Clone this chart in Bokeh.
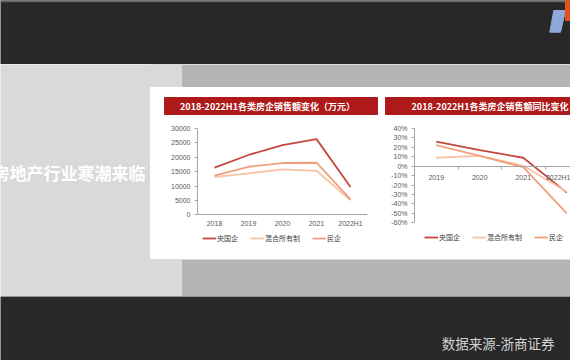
from bokeh.plotting import figure
from bokeh.layouts import column, row
from bokeh.models import Range1d, FixedTicker, NumeralTickFormatter, Legend, LegendItem
from bokeh.core.properties import value
from bokeh.embed import file_html
from bokeh.resources import INLINE

# ---------------- data ----------------
years_l = ["2018", "2019", "2020", "2021", "2022H1"]
soe_l = [16400, 20800, 24200, 26300, 9700]
mixed_l = [13100, 14400, 15800, 15300, 5000]
private_l = [13600, 16700, 18000, 18100, 5400]
yticks_l = [0, 5000, 10000, 15000, 20000, 25000, 30000]

years_r = ["2019", "2020", "2021", "2022H1"]
soe_r = [0.26, 0.17, 0.09, -0.28]
mixed_r = [0.09, 0.11, 0.005, -0.27]
private_r = [0.225, 0.11, -0.01, -0.50]
yticks_r = [-0.6, -0.5, -0.4, -0.3, -0.2, -0.1, 0.0, 0.1, 0.2, 0.3, 0.4]

names = ["央国企", "混合所有制", "民企"]
title_l = "2018-2022H1各类房企销售额变化（万元）"
title_r = "2018-2022H1各类房企销售额同比变化"
side_text = "房地产行业寒潮来临"
source_text = "数据来源-浙商证券"

# ---------------- styles ----------------
DARK = "#282828"
LIGHT = "#d9d9d9"
DOT = "#b5b5b5"
RED = "#ae1a1a"
COLORS = ["#c4483e", "#f6c4a4", "#f0a07c"]
CJK = "Noto Sans CJK SC"
LAT = "Liberation Sans"


def deco(w, h, x0, x1, y0, y1, bg):
    p = figure(width=w, height=h, x_range=Range1d(x0, x1), y_range=Range1d(y1, y0),
               toolbar_location=None, output_backend="svg", x_axis_type=None,
               y_axis_type=None, min_border=0, background_fill_color=bg,
               border_fill_color=bg, outline_line_color=None)
    return p


def style_axes(p):
    for ax in p.axis:
        ax.axis_line_color = "#a6a6a6"
        ax.major_tick_line_color = "#a6a6a6"
        ax.minor_tick_line_color = "#a6a6a6"
        ax.major_label_text_font_size = "7px"
        ax.major_label_text_color = "#595959"
        ax.major_label_text_font = LAT
        ax.major_tick_in = 0
        ax.minor_tick_in = 0
        ax.minor_tick_out = 0
    for ax in p.yaxis:
        ax.major_tick_out = 3
        ax.major_label_standoff = 4
    for ax in p.xaxis:
        ax.major_tick_out = 0
        ax.major_label_standoff = 5
        ax.fixed_location = 0
    p.grid.visible = False


def make_legend(renderers, loc):
    items = [LegendItem(label=n, renderers=[r]) for n, r in zip(names, renderers)]
    return Legend(items=items, orientation="horizontal", location=loc,
                  label_text_font_size="7px", label_text_font=CJK,
                  label_text_color="#404040", glyph_width=14, glyph_height=8,
                  label_height=8, label_standoff=1, spacing=12, padding=0,
                  margin=0, border_line_color=None, background_fill_alpha=0)


# ---------------- top dark band ----------------
top = deco(570, 64, 0, 570, 0, 64, DARK)
top.quad(left=[0], right=[570], top=[0], bottom=[1.2], color="#6a6a6a")
top.patch([553.3, 565, 560, 549.3], [10, 10, 31.7, 31.7], color="#8ea9db")
top.quad(left=[565], right=[571], top=[0], bottom=[20], color="#e5501c")

# ---------------- left grey panel ----------------
leftp = deco(150, 232, 0, 150, 64, 296, LIGHT)
leftp.text(x=[145], y=[172], text=[side_text], text_align="right",
           text_baseline="middle", text_color="white", text_font_size="17px",
           text_font_style="bold", text_font=value(CJK))

# ---------------- strips ----------------
strip_top = deco(420, 23, 150, 570, 64, 87, DOT)
strip_top.quad(left=[150], right=[181], top=[64], bottom=[87], color=LIGHT)
strip_bot = deco(420, 37, 150, 570, 259, 296, DOT)
strip_bot.quad(left=[150], right=[181], top=[259], bottom=[296], color=LIGHT)

# ---------------- header with banners ----------------
header = deco(420, 30, 150, 570, 87, 117, "white")
header.quad(left=[164, 385], right=[377, 600], top=[97, 97], bottom=[114, 114], color=RED)
header.text(x=[267, 489.5], y=[105.8, 105.8], text=[title_l, title_r], text_align="center",
            text_baseline="middle", text_color="white", text_font_size="9px",
            text_font_style="bold", text_font=value(CJK))

# ---------------- left chart ----------------
# frame: 128px (top, 30000) .. 250px (bottom, below the axis, room for legend)
xs_l = list(range(len(years_l)))
span_l = yticks_l[-1] - yticks_l[0]
pl = figure(width=231, height=142, x_range=Range1d(-0.5, len(years_l) - 0.5),
            y_range=Range1d(yticks_l[-1] - span_l * 122 / 90, yticks_l[-1]),
            toolbar_location=None, output_backend="svg", min_border_left=47,
            min_border_right=14, min_border_top=11, min_border_bottom=9,
            outline_line_color=None, background_fill_color="white",
            border_fill_color="white")
rl = [pl.line(xs_l, s, line_color=c, line_width=1.8)
      for s, c in zip([soe_l, mixed_l, private_l], COLORS)]
pl.xaxis.ticker = FixedTicker(ticks=xs_l)
pl.xaxis.major_label_overrides = {i: y for i, y in enumerate(years_l)}
pl.yaxis.ticker = FixedTicker(ticks=yticks_l)
pl.yaxis.bounds = (yticks_l[0], yticks_l[-1])
style_axes(pl)
pl.add_layout(make_legend(rl, (5, 2)))

# ---------------- right chart ----------------
xs_r = list(range(len(years_r)))
span_r = yticks_r[-1] - yticks_r[0]
pr = figure(width=189, height=142, x_range=Range1d(-0.5, 3.086),
            y_range=Range1d(yticks_r[-1] - span_r * 117.3 / 94.6, yticks_r[-1]),
            toolbar_location=None, output_backend="svg", min_border_left=33,
            min_border_right=0, min_border_top=11, min_border_bottom=14,
            outline_line_color=None, background_fill_color="white",
            border_fill_color="white")
rr = [pr.line(xs_r, s, line_color=c, line_width=1.8)
      for s, c in zip([soe_r, mixed_r, private_r], COLORS)]
pr.xaxis.ticker = FixedTicker(ticks=xs_r, minor_ticks=[i + 0.5 for i in range(-1, len(years_r))])
pr.xaxis.major_label_overrides = {i: y for i, y in enumerate(years_r)}
pr.yaxis.ticker = FixedTicker(ticks=yticks_r)
pr.yaxis.bounds = (yticks_r[0], yticks_r[-1])
pr.yaxis.formatter = NumeralTickFormatter(format="0%")
style_axes(pr)
pr.xaxis.minor_tick_out = 3
pr.add_layout(make_legend(rr, (10, 3)))

# ---------------- bottom dark band ----------------
bot = deco(570, 64, 0, 570, 296, 360, DARK)
bot.text(x=[554], y=[342.5], text=[source_text], text_align="right",
         text_baseline="middle", text_color="#d4d4d4", text_font_size="13.5px",
         text_font=value(CJK))

layout = column(
    top,
    row(leftp, column(strip_top, header, row(pl, pr), strip_bot)),
    bot,
)

open("out.html", "w").write(file_html(layout, INLINE))
